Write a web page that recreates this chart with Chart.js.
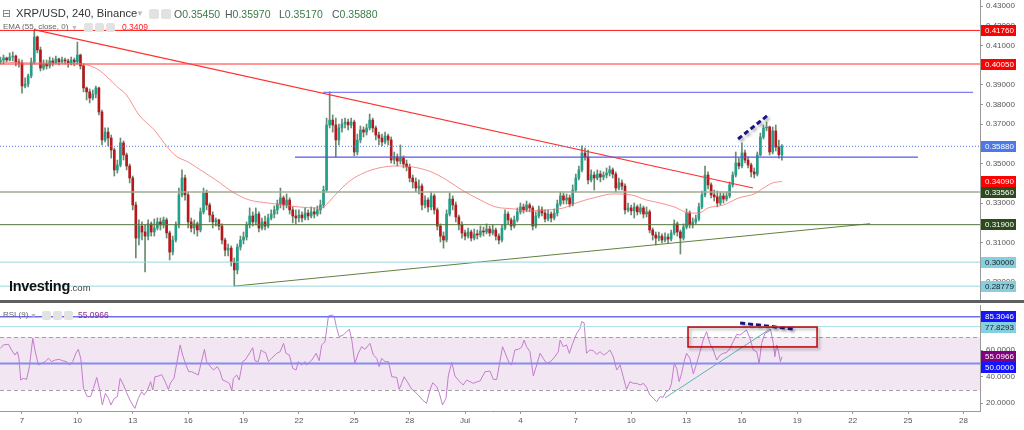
<!DOCTYPE html>
<html>
<head>
<meta charset="utf-8">
<script src="https://cdn.jsdelivr.net/npm/chart.js@4.4.1/dist/chart.umd.min.js"></script>
<style>
  body { margin: 0; background: #fff; font-family: "Liberation Sans", Arial, sans-serif; }
  #wrap { position: relative; width: 1024px; height: 430px; overflow: hidden; background: #fff; }
  canvas { position: absolute; left: 0; }
  #main { top: 0; }
  #rsi { top: 303px; }
  .sep { position: absolute; left: 0; top: 300px; width: 1024px; height: 3px; background: #5f5f5f; }
  .t { position: absolute; white-space: nowrap; line-height: 1; }
  .ico { position: absolute; width: 10px; height: 10px; background: #e2e2e2; border-radius: 2px; }
  .small-ico { width: 9px; height: 9px; }
</style>
</head>
<body>
<div id="wrap">
  <canvas id="main" width="1024" height="300"></canvas>
  <div class="sep"></div>
  <canvas id="rsi" width="1024" height="127"></canvas>

  <div class="t" style="left:2px;top:8px;font-size:11px;color:#777;font-family:'DejaVu Sans'">⊟</div>
  <div class="t" style="left:16px;top:8px;font-size:11.2px;color:#333">XRP/USD, 240, Binance</div>
  <div class="t" style="left:136px;top:10px;font-size:8px;color:#bbb">▼</div>
  <div class="ico" style="left:149px;top:9px"></div>
  <div class="ico" style="left:161px;top:9px"></div>
  <div class="t" style="left:174px;top:9px;font-size:10.5px;color:#555">O<span style="color:#3a7a45">0.35450</span></div>
  <div class="t" style="left:225px;top:9px;font-size:10.5px;color:#555">H<span style="color:#3a7a45">0.35970</span></div>
  <div class="t" style="left:279px;top:9px;font-size:10.5px;color:#555">L<span style="color:#3a7a45">0.35170</span></div>
  <div class="t" style="left:332px;top:9px;font-size:10.5px;color:#555">C<span style="color:#3a7a45">0.35880</span></div>

  <div class="t" style="left:3px;top:23px;font-size:8px;color:#666">EMA (55, close, 0)</div>
  <div class="t" style="left:71px;top:24px;font-size:7px;color:#bbb">▼</div>
  <div class="ico small-ico" style="left:84px;top:23px"></div>
  <div class="ico small-ico" style="left:95px;top:23px"></div>
  <div class="ico small-ico" style="left:106px;top:23px"></div>
  <div class="t" style="left:122px;top:23px;font-size:8.5px;color:#ff1a1a">0.3409</div>

  <div class="t" style="left:3px;top:311px;font-size:8px;color:#666">RSI (9)</div>
  <div class="t" style="left:30px;top:312px;font-size:7px;color:#bbb">▼</div>
  <div class="ico small-ico" style="left:42px;top:311px"></div>
  <div class="ico small-ico" style="left:53px;top:311px"></div>
  <div class="ico small-ico" style="left:64px;top:311px"></div>
  <div class="t" style="left:78px;top:311px;font-size:8.5px;color:#8e2a8e">55.0966</div>

  <div class="t" style="left:9px;top:279px;font-size:14.5px;font-weight:bold;color:#111;letter-spacing:-0.3px">Investing<span style="font-size:9.5px;font-weight:normal;color:#444;letter-spacing:0">.com</span></div>
</div>

<script>
const FONT = '"Liberation Sans", Arial, sans-serif';
Chart.defaults.font.family = FONT;

// 4h candles, x measured in days from 1 June (31 = 1 Jul)
const firstDay = 5.8333;
const candleStep = 1 / 6;
const firstOpen = 0.4016;

const closes = [
  0.4026,0.4036,0.4026,0.4041,0.4046,0.4016,0.4011,0.3894,0.3904,0.3945,
  0.4016,0.4143,0.4077,0.3985,0.4006,0.3996,0.4021,0.4011,0.4031,0.4016,
  0.4026,0.4021,0.4011,0.4026,0.4016,0.4051,0.3996,0.3884,0.3864,0.3833,
  0.3853,0.3884,0.3762,0.3620,0.3660,0.3630,0.3569,0.3468,0.3493,0.3605,
  0.3544,0.3488,0.3427,0.3290,0.3122,0.3183,0.3153,0.3132,0.3194,0.3153,
  0.3173,0.3204,0.3189,0.3214,0.3148,0.3051,0.3112,0.3189,0.3341,0.3427,
  0.3341,0.3204,0.3173,0.3194,0.3163,0.3255,0.3351,0.3290,0.3239,0.3204,
  0.3214,0.3183,0.3112,0.3061,0.3071,0.3001,0.2960,0.3077,0.3112,0.3127,
  0.3189,0.3234,0.3204,0.3244,0.3173,0.3204,0.3183,0.3224,0.3244,0.3265,
  0.3295,0.3326,0.3290,0.3315,0.3265,0.3234,0.3224,0.3239,0.3224,0.3249,
  0.3234,0.3255,0.3244,0.3265,0.3290,0.3366,0.3696,0.3721,0.3696,0.3620,
  0.3681,0.3701,0.3711,0.3696,0.3711,0.3559,0.3620,0.3671,0.3660,0.3681,
  0.3721,0.3681,0.3645,0.3630,0.3610,0.3640,0.3620,0.3518,0.3534,0.3513,
  0.3528,0.3498,0.3483,0.3427,0.3407,0.3376,0.3386,0.3290,0.3315,0.3280,
  0.3336,0.3265,0.3183,0.3132,0.3112,0.3244,0.3320,0.3290,0.3229,0.3189,
  0.3148,0.3132,0.3153,0.3122,0.3143,0.3138,0.3158,0.3153,0.3168,0.3148,
  0.3163,0.3132,0.3112,0.3173,0.3244,0.3214,0.3183,0.3214,0.3255,0.3280,
  0.3265,0.3290,0.3275,0.3183,0.3234,0.3265,0.3249,0.3219,0.3244,0.3224,
  0.3249,0.3295,0.3336,0.3315,0.3326,0.3295,0.3366,0.3427,0.3468,0.3554,
  0.3534,0.3417,0.3442,0.3427,0.3447,0.3432,0.3442,0.3452,0.3468,0.3447,
  0.3376,0.3402,0.3386,0.3265,0.3275,0.3260,0.3280,0.3255,0.3275,0.3244,
  0.3255,0.3163,0.3138,0.3122,0.3132,0.3112,0.3127,0.3117,0.3148,0.3194,
  0.3153,0.3122,0.3178,0.3249,0.3189,0.3204,0.3219,0.3280,0.3341,0.3442,
  0.3392,0.3341,0.3331,0.3300,0.3336,0.3320,0.3336,0.3392,0.3442,0.3503,
  0.3488,0.3554,0.3518,0.3493,0.3458,0.3447,0.3544,0.3635,0.3681,0.3686,
  0.3559,0.3666,0.3584,0.3545,0.3588
];
const highs = [
  0.4041,0.4051,0.4041,0.4062,0.4067,0.4051,0.4031,0.4026,0.3935,0.3955,
  0.4036,0.4178,0.4148,0.4092,0.4026,0.4026,0.4041,0.4036,0.4046,0.4036,
  0.4041,0.4036,0.4031,0.4041,0.4036,0.4117,0.4056,0.4006,0.3889,0.3879,
  0.3874,0.3894,0.3889,0.3772,0.3681,0.3681,0.3645,0.3579,0.3518,0.3630,
  0.3615,0.3554,0.3498,0.3437,0.3305,0.3214,0.3204,0.3189,0.3214,0.3204,
  0.3219,0.3224,0.3224,0.3229,0.3224,0.3158,0.3132,0.3204,0.3376,0.3468,
  0.3442,0.3356,0.3224,0.3214,0.3204,0.3275,0.3376,0.3366,0.3300,0.3255,
  0.3224,0.3219,0.3194,0.3122,0.3092,0.3082,0.3021,0.3092,0.3132,0.3153,
  0.3204,0.3275,0.3255,0.3275,0.3255,0.3224,0.3234,0.3244,0.3265,0.3285,
  0.3315,0.3376,0.3336,0.3346,0.3326,0.3280,0.3265,0.3265,0.3255,0.3275,
  0.3265,0.3280,0.3275,0.3285,0.3315,0.3386,0.3731,0.3864,0.3747,0.3731,
  0.3701,0.3726,0.3731,0.3726,0.3731,0.3721,0.3650,0.3691,0.3686,0.3701,
  0.3752,0.3731,0.3691,0.3660,0.3650,0.3660,0.3650,0.3635,0.3559,0.3549,
  0.3595,0.3539,0.3518,0.3498,0.3442,0.3427,0.3417,0.3397,0.3336,0.3326,
  0.3356,0.3346,0.3275,0.3194,0.3153,0.3265,0.3351,0.3336,0.3305,0.3239,
  0.3204,0.3163,0.3173,0.3163,0.3168,0.3163,0.3183,0.3178,0.3194,0.3183,
  0.3189,0.3173,0.3143,0.3189,0.3265,0.3255,0.3224,0.3234,0.3275,0.3300,
  0.3295,0.3310,0.3300,0.3285,0.3255,0.3285,0.3280,0.3265,0.3265,0.3255,
  0.3270,0.3315,0.3356,0.3351,0.3346,0.3341,0.3392,0.3447,0.3488,0.3590,
  0.3579,0.3569,0.3468,0.3458,0.3468,0.3463,0.3458,0.3478,0.3488,0.3478,
  0.3458,0.3427,0.3417,0.3397,0.3300,0.3290,0.3300,0.3290,0.3295,0.3285,
  0.3280,0.3265,0.3173,0.3153,0.3153,0.3143,0.3148,0.3143,0.3163,0.3214,
  0.3204,0.3163,0.3194,0.3270,0.3260,0.3224,0.3239,0.3300,0.3361,0.3488,
  0.3458,0.3402,0.3366,0.3361,0.3356,0.3351,0.3356,0.3407,0.3458,0.3559,
  0.3528,0.3605,0.3569,0.3534,0.3503,0.3478,0.3559,0.3655,0.3696,0.3711,
  0.3691,0.3686,0.3696,0.3620,0.3597
];
const lows = [
  0.4006,0.4006,0.4016,0.4021,0.4021,0.3996,0.3990,0.3858,0.3884,0.3889,
  0.3935,0.4006,0.4062,0.3970,0.3975,0.3980,0.3985,0.3996,0.4006,0.4001,
  0.4011,0.4006,0.3990,0.4001,0.3996,0.4006,0.3980,0.3864,0.3823,0.3808,
  0.3823,0.3833,0.3747,0.3595,0.3610,0.3590,0.3528,0.3437,0.3452,0.3483,
  0.3518,0.3468,0.3402,0.3265,0.3021,0.3087,0.3112,0.2950,0.3112,0.3132,
  0.3132,0.3163,0.3163,0.3173,0.3122,0.3011,0.3036,0.3102,0.3173,0.3331,
  0.3315,0.3173,0.3153,0.3143,0.3132,0.3153,0.3244,0.3265,0.3204,0.3173,
  0.3183,0.3163,0.3092,0.3031,0.3031,0.2980,0.2878,0.2940,0.3061,0.3092,
  0.3112,0.3173,0.3183,0.3189,0.3153,0.3163,0.3163,0.3173,0.3214,0.3224,
  0.3244,0.3275,0.3265,0.3275,0.3244,0.3199,0.3194,0.3204,0.3204,0.3214,
  0.3214,0.3224,0.3224,0.3234,0.3244,0.3275,0.3356,0.3681,0.3660,0.3534,
  0.3595,0.3660,0.3681,0.3671,0.3681,0.3539,0.3544,0.3605,0.3635,0.3645,
  0.3671,0.3660,0.3620,0.3595,0.3590,0.3600,0.3595,0.3503,0.3498,0.3488,
  0.3498,0.3478,0.3463,0.3407,0.3376,0.3356,0.3346,0.3265,0.3275,0.3255,
  0.3265,0.3244,0.3163,0.3102,0.3071,0.3102,0.3234,0.3265,0.3204,0.3163,
  0.3122,0.3112,0.3122,0.3107,0.3112,0.3117,0.3127,0.3132,0.3143,0.3132,
  0.3138,0.3112,0.3092,0.3102,0.3163,0.3194,0.3163,0.3173,0.3204,0.3244,
  0.3249,0.3255,0.3255,0.3163,0.3173,0.3224,0.3234,0.3204,0.3209,0.3204,
  0.3214,0.3234,0.3285,0.3295,0.3295,0.3280,0.3285,0.3356,0.3417,0.3458,
  0.3518,0.3397,0.3407,0.3366,0.3417,0.3407,0.3417,0.3427,0.3437,0.3427,
  0.3356,0.3366,0.3366,0.3244,0.3255,0.3239,0.3224,0.3239,0.3244,0.3224,
  0.3229,0.3148,0.3112,0.3087,0.3107,0.3097,0.3102,0.3097,0.3107,0.3138,
  0.3132,0.3041,0.3112,0.3168,0.3173,0.3173,0.3194,0.3209,0.3270,0.3331,
  0.3371,0.3326,0.3310,0.3280,0.3290,0.3300,0.3310,0.3326,0.3381,0.3432,
  0.3473,0.3478,0.3503,0.3478,0.3432,0.3427,0.3437,0.3539,0.3625,0.3666,
  0.3544,0.3549,0.3564,0.3528,0.3517
];

// EMA(55), at candle indices
const emaIdx = [0,9,26,32,38,41,45,50,54,57,61,65,70,76,81,87,92,97,103,105,
  107,110,114,118,123,129,134,140,145,150,156,161,167,172,178,183,188,194,199,205,
  210,213,219,224,227,230,235,240,245,248,251,254];
const emaVal = [0.4016,0.4011,0.4006,0.3975,0.3889,0.3848,0.3747,0.3671,0.3589,0.3539,
  0.3508,0.3468,0.3417,0.3351,0.3315,0.3300,0.3290,0.3280,0.3275,0.3280,
  0.3310,0.3361,0.3417,0.3452,0.3478,0.3488,0.3483,0.3458,0.3417,0.3366,
  0.3315,0.3280,0.3270,0.3260,0.3265,0.3275,0.3305,0.3331,0.3346,0.3341,
  0.3315,0.3305,0.3280,0.3249,0.3249,0.3275,0.3290,0.3326,0.3346,0.3376,
  0.3402,0.3409];

// RSI(9) vertices (x in candle index)
const rsiIdx = [0.0,0.9,2.6,3.6,4.7,5.5,6.0,6.6,7.4,8.5,9.4,10.5,11.2,12.3,13.4,14.5,15.6,16.6,17.7,19.1,
  20.4,21.5,22.4,23.5,24.5,25.3,26.1,27.0,28.2,29.3,30.2,31.3,32.4,33.1,34.1,35.1,35.9,37.0,38.0,38.9,
  40.0,41.0,42.1,43.0,43.7,44.8,45.9,46.7,47.8,48.8,49.5,50.2,51.3,52.4,53.3,54.6,55.3,56.4,57.3,58.4,
  59.2,60.1,61.2,62.1,63.2,64.3,65.2,66.3,67.0,68.1,69.2,70.5,71.4,72.2,73.5,74.4,75.2,75.7,76.8,77.6,
  78.7,79.5,80.6,82.0,82.7,83.8,84.7,85.4,86.2,87.1,88.1,89.8,90.9,92.0,92.8,93.9,95.0,96.1,96.8,97.9,
  99.0,99.5,101.2,102.6,103.6,104.4,105.5,106.6,107.9,108.5,109.3,110.1,111.4,112.5,113.4,114.2,115.2,116.3,117.4,118.5,
  120.1,121.2,122.3,123.1,123.9,125.0,126.1,127.2,128.8,129.6,130.4,131.2,132.2,133.7,134.7,135.8,137.2,138.5,139.6,140.5,
  141.8,142.6,143.7,144.8,145.6,146.7,147.7,148.8,150.4,151.5,152.6,153.7,155.0,155.9,157.5,159.1,160.2,161.3,163.2,164.3,
  165.4,166.1,167.2,168.3,169.4,170.2,171.0,172.1,173.2,174.3,175.4,176.4,177.5,178.8,180.2,181.3,181.9,182.9,184.0,184.9,
  186.0,187.3,188.4,188.9,189.7,190.5,191.6,192.7,193.8,194.9,196.0,197.0,198.1,199.2,200.3,201.4,202.7,203.5,204.6,205.7,
  206.8,207.9,209.0,210.0,211.1,212.2,213.3,214.4,215.4,216.3,217.4,218.1,219.0,219.8,220.6,221.4,222.2,223.0,224.1,225.2,
  226.3,227.4,228.4,229.5,230.6,231.7,232.8,233.9,234.9,236.0,237.1,238.2,239.3,240.4,241.4,242.5,243.6,244.7,245.8,246.6,
  247.4,248.5,249.6,250.3,251.2,251.7,252.3,252.9,253.5,254.0];
const rsiVal = [61.4,64.0,64.5,60.2,56.4,58.9,53.9,37.5,38.8,38.0,47.6,69.0,60.2,48.9,50.1,51.4,53.9,51.4,52.6,53.1,
  51.9,51.4,48.9,51.4,57.7,60.7,53.9,31.2,25.0,25.0,31.2,39.5,28.7,18.7,27.5,23.7,18.7,23.7,25.0,38.8,
  33.8,28.0,22.4,18.7,16.1,23.7,28.7,26.2,30.0,36.3,30.0,40.0,40.5,41.6,37.5,30.5,35.5,38.8,50.1,64.0,
  56.4,50.1,43.8,43.8,42.6,41.3,50.1,60.7,51.4,48.1,45.1,47.6,43.8,37.5,36.3,35.0,29.5,38.8,41.3,37.5,
  51.4,52.6,56.4,61.9,52.1,51.4,60.2,58.9,58.2,51.4,53.9,57.7,58.9,65.2,57.7,56.4,46.3,45.1,51.4,48.9,
  51.4,48.9,52.6,57.7,52.1,64.0,66.5,85.8,86.6,85.3,76.5,70.2,71.5,74.0,75.8,67.7,50.1,57.7,62.7,60.7,
  65.2,56.4,53.9,47.6,53.9,51.4,51.4,40.0,39.5,30.5,35.0,40.0,36.3,30.5,28.7,26.2,22.4,19.9,30.0,35.5,
  32.5,28.0,18.7,23.7,41.3,50.9,40.6,37.5,33.8,37.5,36.3,35.0,36.3,36.8,43.8,44.3,38.0,38.0,62.7,56.4,
  50.1,48.9,60.2,60.7,62.2,67.7,62.7,58.9,40.6,48.9,57.7,53.9,50.1,51.4,55.1,58.9,67.7,62.7,64.0,57.7,
  65.2,72.8,76.5,81.6,80.8,57.7,60.2,59.7,56.9,58.9,56.4,57.7,60.2,55.1,45.1,48.9,37.5,30.5,36.3,35.0,
  35.0,33.8,35.0,32.0,26.2,23.7,21.2,25.0,24.5,28.7,30.0,35.0,50.1,46.3,36.3,42.6,51.4,57.7,53.9,42.1,
  50.1,58.9,67.7,74.0,65.2,60.2,52.6,56.4,57.7,58.2,61.4,66.5,72.0,71.5,73.3,75.3,69.0,60.2,58.9,50.1,
  65.2,72.8,74.0,75.8,65.2,55.1,64.0,58.9,51.4,55.1];

// drawn levels and trendlines (price panel)
const levelPrices = [0.4176, 0.4005, 0.3356, 0.3190, 0.3000, 0.28779];
const lastPrice = 0.3588;
const zoneDays = [[23.31, 58.52], [21.79, 55.54]];
const zonePrices = [0.3862, 0.3533];
const trendDays = [[7.65, 46.60], [18.48, 52.94], [45.79, 47.36]];
const trendPrices = [[0.4180, 0.3376], [0.28779, 0.3195], [0.3625, 0.3742]];
const priceTagValues = [0.4176, 0.4005, 0.3588, 0.3409, 0.3356, 0.3190, 0.3000, 0.28779];
const priceTicks = [0.29, 0.30, 0.31, 0.32, 0.33, 0.34, 0.35, 0.36, 0.37, 0.38, 0.39, 0.40, 0.41, 0.42, 0.43];

// RSI panel marks
const rsiLevels = [85.3046, 77.8293, 50];
const rsiBand = [30, 70];
const rsiTrendDays = [[41.83, 47.52], [45.90, 48.77]];
const rsiTrendVals = [[24.0, 76.0], [80.6, 76.0]];
const rsiBoxDays = [43.08, 50.07];
const rsiBoxVals = [62.5, 77.5];
const rsiTagValues = [85.3046, 77.8293, 55.0966, 50];
const rsiTicks = [20, 40, 60, 80];

const tickDays = [7,10,13,16,19,22,25,28,31,34,37,40,43,46,49,52,55,58];
const tickLabels = ['7','10','13','16','19','22','25','28','Jul','4','7','10','13','16','19','22','25','28'];

const xMin = 5.8083, xMax = 58.897;

const UP = '#22a08a', DOWN = '#b3191d', WICK = '#6a8a70';

const opens = closes.map((c, i) => i === 0 ? firstOpen : closes[i - 1]);
const candleDay = i => firstDay + i * candleStep;

function seg(xs, ys, color, width, dash, extra) {
  return Object.assign({
    type: 'line',
    data: [{x: xs[0], y: ys[0]}, {x: xs[1], y: ys[1]}],
    borderColor: color, borderWidth: width, borderDash: dash || [],
    pointRadius: 0, fill: false, order: 0
  }, extra || {});
}

// shadow for hand-drawn marks
const shadowPlugin = {
  id: 'shadowPlugin',
  beforeDatasetDraw(chart, args) {
    if (chart.data.datasets[args.index].shadow) {
      const ctx = chart.ctx;
      ctx.save();
      ctx.shadowColor = 'rgba(0,0,0,0.35)';
      ctx.shadowBlur = 3;
      ctx.shadowOffsetX = 2;
      ctx.shadowOffsetY = 2;
    }
  },
  afterDatasetDraw(chart, args) {
    if (chart.data.datasets[args.index].shadow) chart.ctx.restore();
  }
};

// coloured value tags on the right axis
const axisTags = {
  id: 'axisTags',
  afterDraw(chart, args, opts) {
    const {ctx, chartArea} = chart;
    const scale = chart.scales.y;
    const tags = opts.values.map((v, k) => ({v, y: scale.getPixelForValue(v), bg: opts.bg[k], fg: opts.fg[k]}));
    tags.sort((a, b) => a.y - b.y);
    for (let k = 1; k < tags.length; k++) {
      if (tags[k].y - tags[k - 1].y < 11) tags[k].y = tags[k - 1].y + 11;
    }
    ctx.save();
    ctx.font = '8px ' + FONT;
    ctx.textBaseline = 'middle';
    tags.forEach(t => {
      ctx.fillStyle = t.bg;
      ctx.fillRect(chartArea.right + 1, Math.round(t.y - 5.5), 35, 11);
      ctx.fillStyle = t.fg;
      ctx.fillText(t.v.toFixed(opts.digits), chartArea.right + 5, Math.round(t.y - 5.5) + 6);
    });
    ctx.restore();
  }
};

// RSI band 30-70 with dashed borders, and the red highlight box
const rsiDecor = {
  id: 'rsiDecor',
  beforeDatasetsDraw(chart) {
    const {ctx, chartArea: a, scales: {y}} = chart;
    const top = y.getPixelForValue(rsiBand[1]);
    const bot = y.getPixelForValue(rsiBand[0]);
    ctx.save();
    ctx.fillStyle = '#f3e6f3';
    ctx.fillRect(a.left, top, a.right - a.left, bot - top);
    ctx.strokeStyle = '#a8a0a8';
    ctx.lineWidth = 1;
    ctx.setLineDash([4, 3]);
    [top, bot].forEach(py => {
      ctx.beginPath();
      ctx.moveTo(a.left, Math.round(py) + 0.5);
      ctx.lineTo(a.right, Math.round(py) + 0.5);
      ctx.stroke();
    });
    ctx.restore();
  },
  afterDatasetsDraw(chart) {
    const {ctx, scales: {x, y}} = chart;
    const x0 = x.getPixelForValue(rsiBoxDays[0]), x1 = x.getPixelForValue(rsiBoxDays[1]);
    const y0 = y.getPixelForValue(rsiBoxVals[1]), y1 = y.getPixelForValue(rsiBoxVals[0]);
    ctx.save();
    ctx.shadowColor = 'rgba(0,0,0,0.35)';
    ctx.shadowBlur = 3;
    ctx.shadowOffsetX = 2;
    ctx.shadowOffsetY = 2;
    ctx.strokeStyle = '#c00000';
    ctx.lineWidth = 1.5;
    ctx.strokeRect(x0, y0, x1 - x0, y1 - y0);
    ctx.restore();
  }
};

const rightAxis = (min, max, tickValues, digits) => ({
  type: 'linear', position: 'right', min, max,
  afterBuildTicks: s => { s.ticks = tickValues.map(v => ({value: v})); },
  afterFit: s => { s.width = 44; s.paddingTop = 0; s.paddingBottom = 0; },
  border: {display: true, color: '#999'},
  grid: {drawOnChartArea: false, drawTicks: true, tickLength: 3, color: '#999'},
  ticks: {
    padding: 3, color: '#555',
    font: {size: 8, family: FONT}, callback: v => v.toFixed(digits)
  }
});

// ---------- price panel ----------
const mainDatasets = [
  {
    type: 'bar', label: 'body', order: 1, grouped: false,
    data: closes.map((c, i) => ({x: candleDay(i), y: [opens[i], c]})),
    backgroundColor: closes.map((c, i) => c >= opens[i] ? UP : DOWN),
    barThickness: 2, minBarLength: 1, borderWidth: 0
  },
  {
    type: 'bar', label: 'wick', order: 2, grouped: false,
    data: highs.map((h, i) => ({x: candleDay(i), y: [lows[i], h]})),
    backgroundColor: WICK, barThickness: 1, borderWidth: 0
  },
  {
    type: 'line', label: 'EMA', order: 0,
    data: emaIdx.map((k, j) => ({x: candleDay(k), y: emaVal[j]})),
    borderColor: 'rgba(245,110,110,0.75)', borderWidth: 1, pointRadius: 0,
    cubicInterpolationMode: 'monotone', fill: false
  },
  seg([xMin, xMax], [levelPrices[0], levelPrices[0]], '#ff1a1a', 1),
  seg([xMin, xMax], [levelPrices[1], levelPrices[1]], 'rgba(255,70,70,0.75)', 1.5),
  seg([xMin, xMax], [levelPrices[2], levelPrices[2]], '#9eab90', 1.5),
  seg([xMin, xMax], [levelPrices[3], levelPrices[3]], '#56763c', 1),
  seg([xMin, xMax], [levelPrices[4], levelPrices[4]], '#98d6e2', 1),
  seg([xMin, xMax], [levelPrices[5], levelPrices[5]], '#98d6e2', 1),
  seg([xMin, xMax], [lastPrice, lastPrice], '#4d79e6', 1, [1, 2]),
  seg(zoneDays[0], [zonePrices[0], zonePrices[0]], '#5c5cf0', 1),
  seg(zoneDays[1], [zonePrices[1], zonePrices[1]], '#5656ea', 1.2),
  seg(trendDays[0], trendPrices[0], '#ff3030', 1.2),
  seg(trendDays[1], trendPrices[1], '#62803f', 1),
  seg(trendDays[2], trendPrices[2], '#16168a', 3, [5, 3], {shadow: true})
];

new Chart(document.getElementById('main'), {
  type: 'bar',
  data: {datasets: mainDatasets},
  options: {
    responsive: false, animation: false, events: [],
    layout: {padding: 0},
    plugins: {
      legend: {display: false}, tooltip: {enabled: false},
      axisTags: {
        values: priceTagValues, digits: 5,
        bg: ['#ff0000', '#ff0000', '#4d79e6', '#ff0000', '#2c4b1c', '#2c4b1c', '#86cfe0', '#86cfe0'],
        fg: ['#fff', '#fff', '#fff', '#fff', '#fff', '#fff', '#222', '#222']
      }
    },
    scales: {
      x: {type: 'linear', min: xMin, max: xMax, offset: false, display: false},
      y: rightAxis(0.280761, 0.43305, priceTicks, 5)
    }
  },
  plugins: [axisTags, shadowPlugin]
});

// ---------- RSI panel ----------
const rsiDatasets = [
  {
    type: 'line', label: 'RSI', order: 1,
    data: rsiIdx.map((k, j) => ({x: candleDay(k), y: rsiVal[j]})),
    borderColor: '#c47dcc', borderWidth: 1, pointRadius: 0, fill: false
  },
  seg([xMin, xMax], [rsiLevels[0], rsiLevels[0]], '#6e6ef2', 1.5),
  seg([xMin, xMax], [rsiLevels[1], rsiLevels[1]], '#a8e0ea', 1),
  seg([xMin, xMax], [rsiLevels[2], rsiLevels[2]], '#8a8af0', 2),
  seg(rsiTrendDays[0], rsiTrendVals[0], '#5fb4b0', 1),
  seg(rsiTrendDays[1], rsiTrendVals[1], '#16168a', 3, [5, 3], {shadow: true})
];

new Chart(document.getElementById('rsi'), {
  type: 'line',
  data: {datasets: rsiDatasets},
  options: {
    responsive: false, animation: false, events: [],
    layout: {padding: {top: 2}},
    plugins: {
      legend: {display: false}, tooltip: {enabled: false},
      axisTags: {
        values: rsiTagValues, digits: 4,
        bg: ['#1414ff', '#86cfe0', '#800080', '#1414ff'],
        fg: ['#fff', '#222', '#fff', '#fff']
      }
    },
    scales: {
      x: {
        type: 'linear', min: xMin, max: xMax, offset: false,
        afterFit: s => { s.height = 19; s.paddingLeft = 0; s.paddingRight = 0; },
        afterBuildTicks: s => { s.ticks = tickDays.map(v => ({value: v})); },
        border: {display: true, color: '#999'},
        grid: {drawOnChartArea: false, drawTicks: true, tickLength: 3, color: '#999'},
        ticks: {
          autoSkip: false, maxRotation: 0, padding: 2, color: '#555',
          font: {size: 8, family: FONT},
          callback: (v, i) => tickLabels[i]
        }
      },
      y: rightAxis(14.15, 94.15, rsiTicks, 4)
    }
  },
  plugins: [rsiDecor, axisTags, shadowPlugin]
});
</script>
</body>
</html>
